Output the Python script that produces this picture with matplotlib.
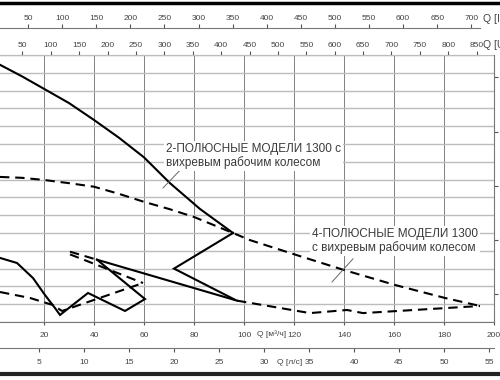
import matplotlib
matplotlib.use('Agg')
import matplotlib.pyplot as plt
from matplotlib.lines import Line2D

plt.rcParams['font.family'] = ['Liberation Sans', 'DejaVu Sans']

# --- data: flow Q [m3/h], head H [m] ---
# 2-pole main curve
q_2p = [2.4, 11.2, 20, 30, 40, 50, 60, 70.4, 82.4, 95.6]
h_2p = [31.9, 30.6, 29.2, 27.6, 25.7, 23.7, 21.5, 18.6, 15.7, 13.0]
# zigzag after the 2-pole curve
q_zig = [95.6, 72, 96.4]
h_zig = [13.0, 9.0, 5.5]
# 4-pole upper dashed curve
q_4p = [2.4, 11.2, 20, 30, 40, 50, 60, 70, 80, 95.6, 102.4, 122.4, 140, 160.4, 180.4, 194.4]
h_4p = [19.3, 19.2, 18.96, 18.6, 18.2, 17.4, 16.5, 15.7, 14.8, 13.0, 12.2, 10.4, 8.84, 7.16, 5.7, 4.8]
# lower long solid line and its dashed tail
q_long = [41.2, 97.2]
h_long = [10.0, 5.4]
q_tail = [97.2, 126.4, 141.2, 147.6, 194.4]
h_tail = [5.4, 4.0, 4.35, 4.0, 4.8]
# left lower solid curve with zigzag
q_low = [2.4, 9.2, 15.6, 20.4, 24.4, 26.4, 37.6, 52.4, 60.4, 41.2]
h_low = [10.2, 9.63, 7.94, 6.03, 4.57, 3.79, 6.26, 4.24, 5.58, 10.0]
# left lower dashed curve
q_lowd = [2.4, 14.4, 23.6, 27.2, 59.6]
h_lowd = [6.37, 5.7, 4.9, 4.24, 7.38]
# short dashed pieces
q_d1 = [30.4, 41.2]
h_d1 = [10.9, 10.0]
q_d2 = [30.4, 59.6]
h_d2 = [10.6, 7.38]
# leader lines
q_lead1 = [67.6, 75.6]
h_lead1 = [18.06, 20.4]
q_lead2 = [135.2, 143.6]
h_lead2 = [7.5, 10.1]

xt_m3h = [20, 40, 60, 80, 100, 120, 140, 160, 180, 200]
xt_lps = [5, 10, 15, 20, 25, 30, 35, 40, 45, 50, 55]
xt_us = list(range(50, 851, 50))
xt_imp = list(range(50, 701, 50))
yt_ft = [20, 40, 60, 80, 100]

label_2p = '2-ПОЛЮСНЫЕ МОДЕЛИ 1300 с\nвихревым рабочим колесом'
label_4p = '4-ПОЛЮСНЫЕ МОДЕЛИ 1300\nс вихревым рабочим колесом'

fig = plt.figure(figsize=(5, 3.8), dpi=100)
ax = fig.add_axes([0, 58 / 380, 494 / 500, 267 / 380])
ax.set_xlim(2.4, 200)
ax.set_ylim(3, 33)

gcol = '#555555'
tcol = '#444444'

ax.set_xticks(xt_m3h)
ax.set_yticks(range(3, 34, 2))
ax.set_yticklabels([])
ax.grid(axis='x', color='#808080', lw=0.7)
ax.grid(axis='y', color='#bcbcbc', lw=1.0)
ax.tick_params(axis='y', length=0)
ax.tick_params(axis='x', length=2, color=gcol, labelsize=6, labelcolor=tcol, pad=5)
for s in ['left', 'top']:
    ax.spines[s].set_visible(False)
for s in ['right', 'bottom']:
    ax.spines[s].set_color('#777777')
    ax.spines[s].set_linewidth(0.8)

solid = dict(color='black', lw=1.5, solid_joinstyle='miter')
dash = dict(color='black', lw=1.5, ls=(0, (4.5, 2.8)))

ax.plot(q_2p, h_2p, **solid)
ax.plot(q_zig, h_zig, **solid)
ax.plot(q_long, h_long, **solid)
ax.plot(q_low, h_low, **solid)
ax.plot(q_4p, h_4p, **dash)
ax.plot(q_tail, h_tail, **dash)
ax.plot(q_lowd, h_lowd, **dash)
ax.plot(q_d1, h_d1, **dash)
ax.plot(q_d2, h_d2, **dash)
ax.plot(q_lead1, h_lead1, color='#666666', lw=0.7)
ax.plot(q_lead2, h_lead2, color='#666666', lw=0.7)

box = dict(facecolor='white', edgecolor='none', pad=1.5)
ax.text(68.8, 21.65, label_2p, fontsize=8.5, color='#3a3a3a', va='center',
        ha='left', linespacing=1.1, bbox=box)
ax.text(127.2, 12.1, label_4p, fontsize=8.5, color='#3a3a3a', va='center',
        ha='left', linespacing=1.1, bbox=box)

# secondary flow scales
us = ax.secondary_xaxis('top', functions=(lambda q: q * 4.4029, lambda g: g / 4.4029))
us.set_xticks(xt_us)
us.tick_params(length=3, color=gcol, labelsize=6, labelcolor=tcol, pad=1)
us.spines['top'].set_color('#777777')
us.spines['top'].set_linewidth(0.8)
us.spines['top'].set_bounds(2.4 * 4.4029, 194.4 * 4.4029)

imp = ax.secondary_xaxis(1 + 27 / 267, functions=(lambda q: q * 3.6662, lambda g: g / 3.6662))
imp.set_xticks(xt_imp)
imp.tick_params(length=3, color=gcol, labelsize=6, labelcolor=tcol, pad=1)
imp.spines['top'].set_color('#777777')
imp.spines['top'].set_linewidth(0.8)
imp.spines['top'].set_bounds(2.4 * 3.6662, 194.4 * 3.6662)

lps = ax.secondary_xaxis(-26 / 267, functions=(lambda q: q / 3.6, lambda l: l * 3.6))
lps.set_xticks(xt_lps)
lps.tick_params(length=3, color=gcol, labelsize=6, labelcolor=tcol, pad=5)
lps.spines['bottom'].set_color('#777777')
lps.spines['bottom'].set_linewidth(0.8)

ft = ax.secondary_yaxis('right', functions=(lambda m: m * 3.28084, lambda f: f / 3.28084))
ft.set_yticks(yt_ft)
ft.set_yticklabels([])
ft.tick_params(length=3, color=gcol)
ft.spines['right'].set_visible(False)

# axis titles (cut at the right edge as in the source picture)
fig.text(483 / 500, 1 - 19 / 380, 'Q [Imp gpm]', fontsize=7.5, color=tcol, ha='left', va='center')
fig.text(483 / 500, 1 - 45 / 380, 'Q [US gpm]', fontsize=7.5, color=tcol, ha='left', va='center')
fig.text(257 / 500, 1 - 334 / 380, 'Q [м³/ч]', fontsize=6, color=tcol, ha='left', va='center')
fig.text(277 / 500, 1 - 362 / 380, 'Q [л/с]', fontsize=6, color=tcol, ha='left', va='center')

# black frame lines
fig.add_artist(Line2D([0, 1], [1 - 3 / 380, 1 - 3 / 380], transform=fig.transFigure, color='black', lw=2.5))
fig.add_artist(Line2D([0, 1], [6 / 380, 6 / 380], transform=fig.transFigure, color='#222222', lw=3))

fig.savefig('out.png', dpi=100)
